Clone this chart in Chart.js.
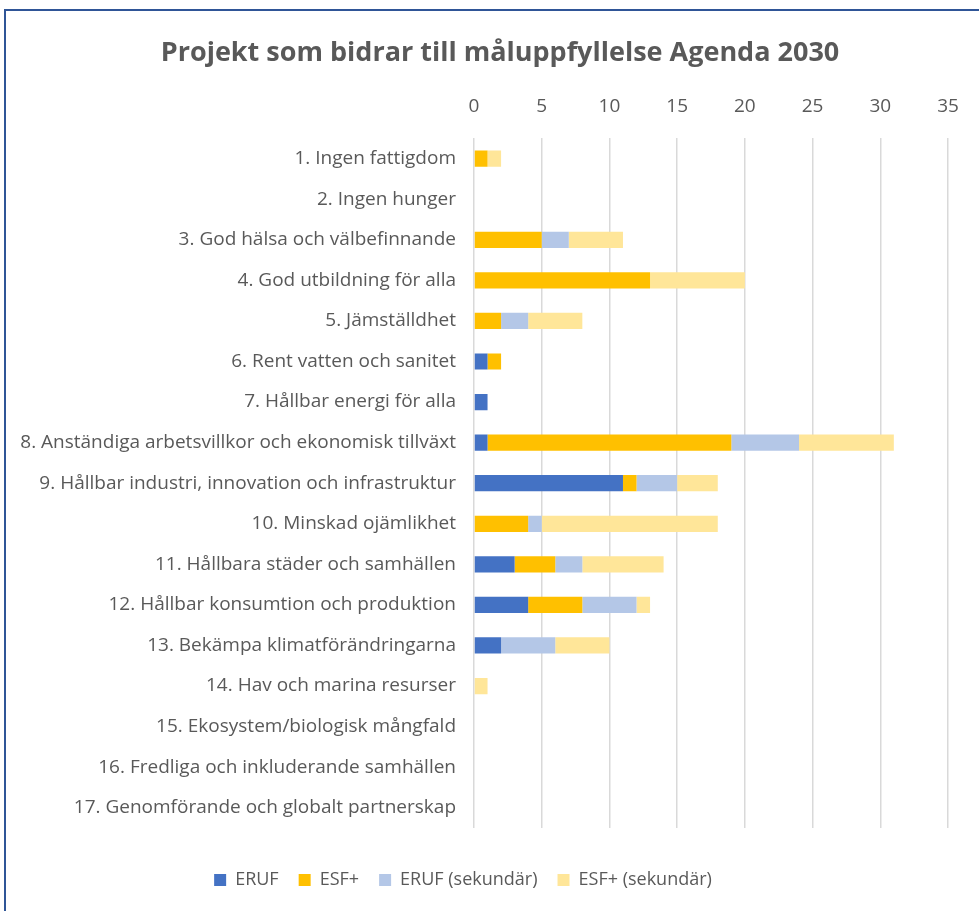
<!DOCTYPE html>
<html>
<head>
<meta charset="utf-8">
<script src="https://cdn.jsdelivr.net/npm/chart.js@4.4.1/dist/chart.umd.min.js"></script>
<style>
  html, body { margin: 0; padding: 0; background: #fff; overflow: hidden; }
  #wrap { position: relative; width: 979px; height: 911px; }
  #frame { position: absolute; left: 4px; top: 9px; width: 1000px; height: 1000px;
           border-top: 2px solid #2f5597; border-left: 2px solid #2f5597; pointer-events: none; }
  canvas { position: absolute; left: 0; top: 0; }
</style>
</head>
<body>
<div id="wrap">
  <canvas id="chart" width="979" height="911"></canvas>
  <div id="frame"></div>
</div>
<script>
// Data
const categories = [
    '1. Ingen fattigdom',
    '2. Ingen hunger',
    '3. God hälsa och välbefinnande',
    '4. God utbildning för alla',
    '5. Jämställdhet',
    '6. Rent vatten och sanitet',
    '7. Hållbar energi för alla',
    '8. Anständiga arbetsvillkor och ekonomisk tillväxt',
    '9. Hållbar industri, innovation och infrastruktur',
    '10. Minskad ojämlikhet',
    '11. Hållbara städer och samhällen',
    '12. Hållbar konsumtion och produktion',
    '13. Bekämpa klimatförändringarna',
    '14. Hav och marina resurser',
    '15. Ekosystem/biologisk mångfald',
    '16. Fredliga och inkluderande samhällen',
    '17. Genomförande och globalt partnerskap'
];
const eruf       = [0, 0, 0, 0, 0, 1, 1, 1, 11, 0, 3, 4, 2, 0, 0, 0, 0];
const esf        = [1, 0, 5, 13, 2, 1, 0, 18, 1, 4, 3, 4, 0, 0, 0, 0, 0];
const erufSek    = [0, 0, 2, 0, 2, 0, 0, 5, 3, 1, 2, 4, 4, 0, 0, 0, 0];
const esfSek     = [1, 0, 4, 7, 4, 0, 0, 7, 3, 13, 6, 1, 4, 1, 0, 0, 0];
const xTicks = [0, 5, 10, 15, 20, 25, 30, 35];

const textColor = '#595959';

// nudge title and legend sideways, like the original
const boxShift = {
    id: 'boxShift',
    afterLayout(chart) {
        chart.titleBlock.left += 26;
        chart.titleBlock.right += 26;
        chart.legend.left -= 11;
        chart.legend.right -= 11;
    }
};

const ctx = document.getElementById('chart').getContext('2d');
new Chart(ctx, {
    type: 'bar',
    data: {
        labels: categories,
        datasets: [
            { label: 'ERUF', data: eruf, backgroundColor: '#4472c4' },
            { label: 'ESF+', data: esf, backgroundColor: '#ffc000' },
            { label: 'ERUF (sekundär)', data: erufSek, backgroundColor: '#b4c7e7' },
            { label: 'ESF+ (sekundär)', data: esfSek, backgroundColor: '#ffe699' }
        ]
    },
    plugins: [boxShift],
    options: {
        indexAxis: 'y',
        responsive: false,
        animation: false,
        barPercentage: 0.4,
        categoryPercentage: 1,
        layout: { padding: { left: 0, right: 31, top: 0, bottom: 12 } },
        plugins: {
            title: {
                display: true,
                text: 'Projekt som bidrar till måluppfyllelse Agenda 2030',
                color: textColor,
                font: { family: 'Open Sans', size: 27, weight: 'bold' },
                padding: { top: 37, bottom: 0 }
            },
            legend: {
                position: 'bottom',
                labels: {
                    color: textColor,
                    font: { family: 'Open Sans', size: 18 },
                    boxWidth: 12,
                    boxHeight: 12,
                    padding: 20
                }
            },
            tooltip: { enabled: false }
        },
        scales: {
            x: {
                position: 'top',
                stacked: true,
                min: 0,
                max: 35,
                afterBuildTicks: (scale) => { scale.ticks = xTicks.map(v => ({ value: v })); },
                afterFit: (scale) => { scale.height = 69; },
                ticks: { color: textColor, font: { family: 'Open Sans', size: 19 }, padding: 20 },
                grid: { color: '#d9d9d9', lineWidth: 1.5, drawTicks: false },
                border: { display: false }
            },
            x2: {
                position: 'bottom',
                axis: 'x',
                min: 0,
                max: 35,
                afterFit: (scale) => { scale.height = 23; },
                ticks: { display: false },
                grid: { display: false, drawTicks: false },
                border: { display: false }
            },
            y: {
                stacked: true,
                afterFit: (scale) => { scale.width = 474; },
                ticks: { color: textColor, font: { family: 'Open Sans', size: 19 }, padding: 18 },
                grid: { display: false, drawTicks: false },
                border: { display: false }
            }
        }
    }
});
</script>
</body>
</html>
